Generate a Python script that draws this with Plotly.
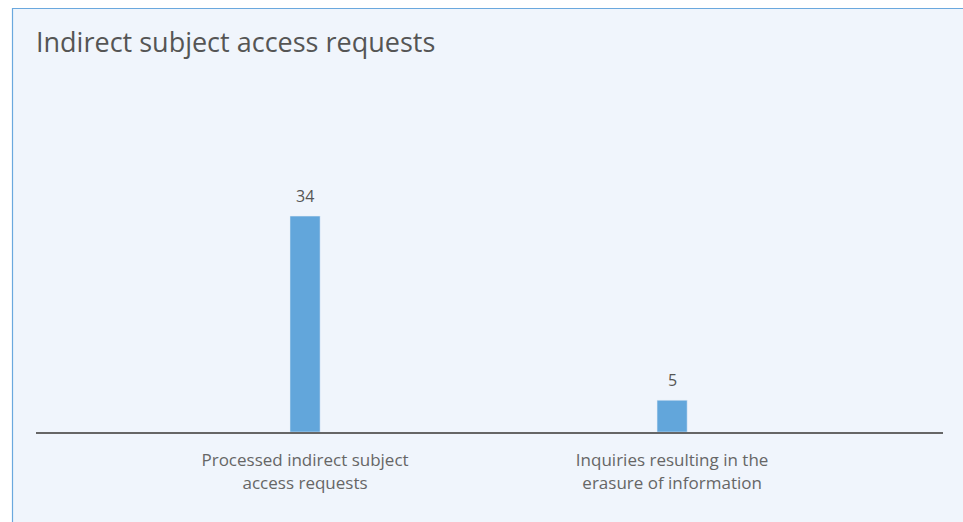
import plotly.graph_objects as go

categories = ["Processed indirect subject<br>access requests",
              "Inquiries resulting in the<br>erasure of information"]
values = [34, 5]
title_text = "Indirect subject access requests"

W, H = 963, 522
L, R, T, B = 36, 20, 90, 90
pw = W - L - R
ph = H - T - B

bar_color = "#62A6DB"
panel_color = "#F0F5FC"
FONT = "Open Sans"

fig = go.Figure()
fig.add_trace(go.Bar(
    x=categories, y=values, marker_color=bar_color, width=0.082,
    hoverinfo="skip",
))

for c, v in zip(categories, values):
    fig.add_annotation(x=c, y=v, text=str(v), showarrow=False,
                       yanchor="bottom", yshift=7,
                       font=dict(family=FONT, size=16, color="#555555"))

def px_x(p):
    return (p - L) / pw

def px_y(p):
    return (H - B - p) / ph

fig.add_shape(type="rect", xref="paper", yref="paper", layer="below",
              x0=px_x(12.5), x1=px_x(990), y0=px_y(540), y1=px_y(8.5),
              fillcolor=panel_color, line=dict(color="#6AA8DE", width=1.2))

fig.update_layout(
    width=W, height=H,
    margin=dict(l=L, r=R, t=T, b=B),
    paper_bgcolor="white", plot_bgcolor="rgba(0,0,0,0)",
    showlegend=False,
    title=dict(text=title_text, x=L / W, xanchor="left", y=1 - 43 / H, yanchor="middle",
               font=dict(family=FONT, size=27, color="#555555")),
    font=dict(family=FONT, color="#666666"),
)
fig.update_xaxes(type="category", range=[-0.733, 1.738], showgrid=False,
                 showline=True, linecolor="#666666", linewidth=2,
                 ticks="", ticklabelstandoff=12,
                 tickfont=dict(family=FONT, size=17, color="#666666"))
fig.update_yaxes(range=[0, ph / 6.35], visible=False, showgrid=False, zeroline=False)

fig.write_html("out.html")
